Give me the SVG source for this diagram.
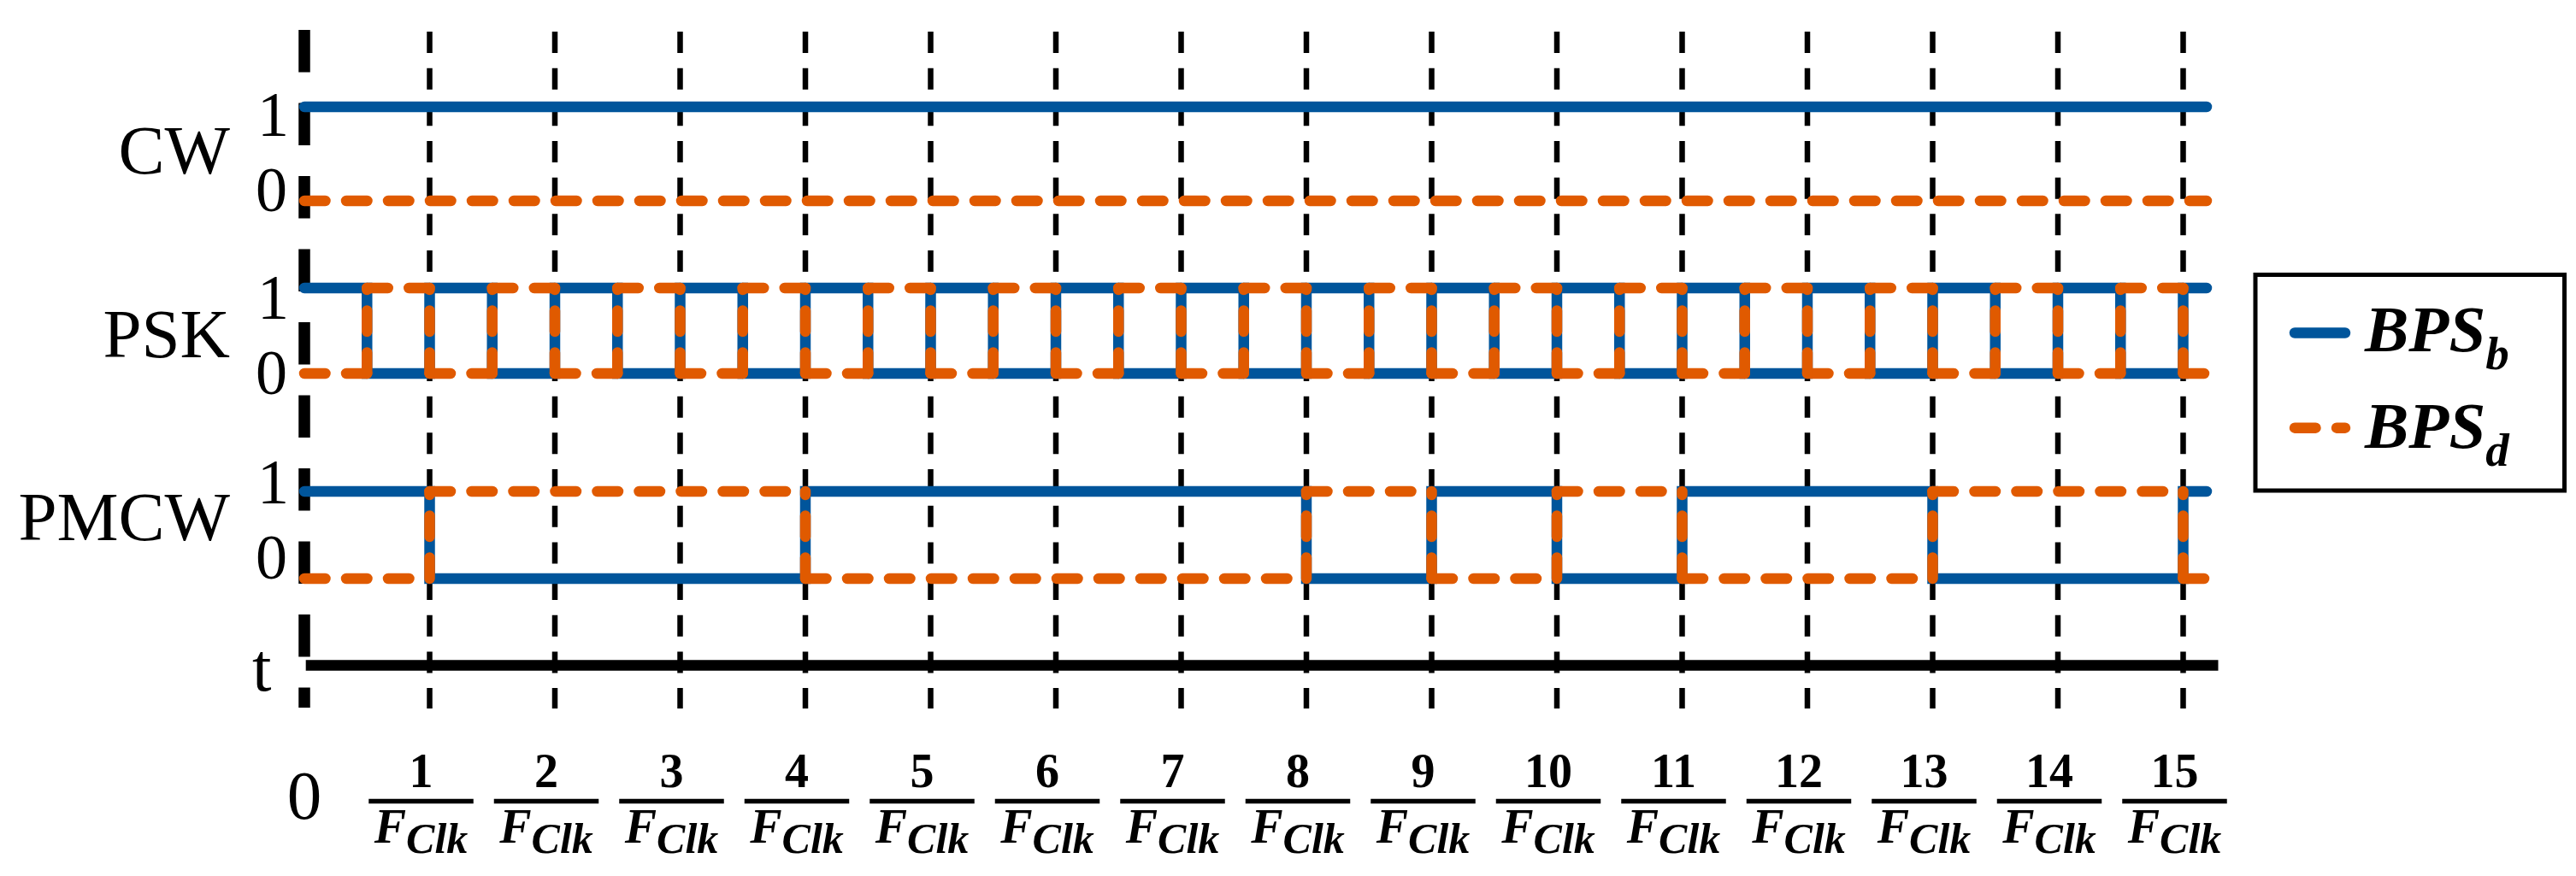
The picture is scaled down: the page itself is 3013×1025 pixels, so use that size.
<svg xmlns="http://www.w3.org/2000/svg" width="3013" height="1025" viewBox="0 0 3013 1025">
<style>
.grid{stroke:#000;stroke-width:6.5;stroke-dasharray:25 17.67;fill:none}
.yaxis{stroke:#000;stroke-width:13.5;stroke-dasharray:49.5 36;fill:none}
.taxis{stroke:#000;stroke-width:12.5;fill:none}
.b{stroke:#00559B;stroke-width:12.5;fill:none;stroke-linecap:round;stroke-linejoin:miter}
.d{stroke:#E05A00;stroke-width:12.5;fill:none;stroke-linecap:round;stroke-dasharray:24.5 24.5}
.lbl{font-family:"Liberation Serif","Times New Roman",serif;font-size:81px;fill:#000}
.lv{font-family:"Liberation Serif","Times New Roman",serif;font-size:74px;fill:#000;text-anchor:end}
.num{font-family:"Liberation Serif","Times New Roman",serif;font-weight:bold;font-size:56px;text-anchor:middle;fill:#000}
.den{font-family:"Liberation Serif","Times New Roman",serif;font-weight:bold;font-style:italic;text-anchor:middle;fill:#000}
.bar{stroke:#000;stroke-width:5.5}
.leg{font-family:"Liberation Serif","Times New Roman",serif;font-weight:bold;font-style:italic;fill:#000}
</style>
<rect width="3013" height="1025" fill="#fff"/>
<g id="grid">
<line class="grid" x1="502.5" y1="37" x2="502.5" y2="829"/>
<line class="grid" x1="649" y1="37" x2="649" y2="829"/>
<line class="grid" x1="795.5" y1="37" x2="795.5" y2="829"/>
<line class="grid" x1="942" y1="37" x2="942" y2="829"/>
<line class="grid" x1="1088.5" y1="37" x2="1088.5" y2="829"/>
<line class="grid" x1="1235" y1="37" x2="1235" y2="829"/>
<line class="grid" x1="1381.5" y1="37" x2="1381.5" y2="829"/>
<line class="grid" x1="1528" y1="37" x2="1528" y2="829"/>
<line class="grid" x1="1674.5" y1="37" x2="1674.5" y2="829"/>
<line class="grid" x1="1821" y1="37" x2="1821" y2="829"/>
<line class="grid" x1="1967.5" y1="37" x2="1967.5" y2="829"/>
<line class="grid" x1="2114" y1="37" x2="2114" y2="829"/>
<line class="grid" x1="2260.5" y1="37" x2="2260.5" y2="829"/>
<line class="grid" x1="2407" y1="37" x2="2407" y2="829"/>
<line class="grid" x1="2553.5" y1="37" x2="2553.5" y2="829"/>
</g>
<g id="axes">
<line class="yaxis" x1="356" y1="35" x2="356" y2="828"/>
<line class="taxis" x1="357.7" y1="778.5" x2="2594.5" y2="778.5"/>
</g>
<g id="labels">
<text class="lbl" x="269" y="203" text-anchor="end">CW</text>
<text class="lbl" x="269" y="418" text-anchor="end">PSK</text>
<text class="lbl" x="269" y="632" text-anchor="end">PMCW</text>
<text class="lv" x="338" y="159">1</text>
<text class="lv" x="336" y="247">0</text>
<text class="lv" x="338" y="373">1</text>
<text class="lv" x="336" y="461">0</text>
<text class="lv" x="338" y="589">1</text>
<text class="lv" x="336" y="677">0</text>
<text class="lbl" x="295" y="808" font-size="100">t</text>
<text class="lbl" x="356" y="958" text-anchor="middle">0</text>
</g>
<g id="cw">
<line class="b" x1="356" y1="125" x2="2581" y2="125"/>
<line class="d" x1="356" y1="235" x2="2581" y2="235"/>
</g>
<g id="psk">
<path class="b" d="M356,337H429.25V437H502.5V337H575.75V437H649V337H722.25V437H795.5V337H868.75V437H942V337H1015.25V437H1088.5V337H1161.75V437H1235V337H1308.25V437H1381.5V337H1454.75V437H1528V337H1601.25V437H1674.5V337H1747.75V437H1821V337H1894.25V437H1967.5V337H2040.75V437H2114V337H2187.25V437H2260.5V337H2333.75V437H2407V337H2480.25V437H2553.5V337H2581"/>
<path class="d" d="M356,437H429.25M429.25,337H502.5M502.5,437H575.75M575.75,337H649M649,437H722.25M722.25,337H795.5M795.5,437H868.75M868.75,337H942M942,437H1015.25M1015.25,337H1088.5M1088.5,437H1161.75M1161.75,337H1235M1235,437H1308.25M1308.25,337H1381.5M1381.5,437H1454.75M1454.75,337H1528M1528,437H1601.25M1601.25,337H1674.5M1674.5,437H1747.75M1747.75,337H1821M1821,437H1894.25M1894.25,337H1967.5M1967.5,437H2040.75M2040.75,337H2114M2114,437H2187.25M2187.25,337H2260.5M2260.5,437H2333.75M2333.75,337H2407M2407,437H2480.25M2480.25,337H2553.5M2553.5,437H2581"/>
<path class="d" d="M429.25,437V337M502.5,437V337M575.75,437V337M649,437V337M722.25,437V337M795.5,437V337M868.75,437V337M942,437V337M1015.25,437V337M1088.5,437V337M1161.75,437V337M1235,437V337M1308.25,437V337M1381.5,437V337M1454.75,437V337M1528,437V337M1601.25,437V337M1674.5,437V337M1747.75,437V337M1821,437V337M1894.25,437V337M1967.5,437V337M2040.75,437V337M2114,437V337M2187.25,437V337M2260.5,437V337M2333.75,437V337M2407,437V337M2480.25,437V337M2553.5,437V337"/>
</g>
<g id="pmcw">
<path class="b" d="M356,575H502.5V677H942V575H1528V677H1674.5V575H1821V677H1967.5V575H2260.5V677H2553.5V575H2581"/>
<path class="d" d="M356,677H502.5M502.5,575H942M942,677H1528M1528,575H1674.5M1674.5,677H1821M1821,575H1967.5M1967.5,677H2260.5M2260.5,575H2553.5M2553.5,677H2581"/>
<path class="d" d="M502.5,677V575M942,677V575M1528,677V575M1674.5,677V575M1821,677V575M1967.5,677V575M2260.5,677V575M2553.5,677V575"/>
</g>
<g id="ticks">
<g transform="translate(492.5,0)"><text class="num" x="0" y="921">1</text><line class="bar" x1="-61.25" y1="937.5" x2="61.25" y2="937.5"/><text class="den" x="0" y="986"><tspan font-size="56">F</tspan><tspan font-size="50" dy="12">Clk</tspan></text></g>
<g transform="translate(639,0)"><text class="num" x="0" y="921">2</text><line class="bar" x1="-61.25" y1="937.5" x2="61.25" y2="937.5"/><text class="den" x="0" y="986"><tspan font-size="56">F</tspan><tspan font-size="50" dy="12">Clk</tspan></text></g>
<g transform="translate(785.5,0)"><text class="num" x="0" y="921">3</text><line class="bar" x1="-61.25" y1="937.5" x2="61.25" y2="937.5"/><text class="den" x="0" y="986"><tspan font-size="56">F</tspan><tspan font-size="50" dy="12">Clk</tspan></text></g>
<g transform="translate(932,0)"><text class="num" x="0" y="921">4</text><line class="bar" x1="-61.25" y1="937.5" x2="61.25" y2="937.5"/><text class="den" x="0" y="986"><tspan font-size="56">F</tspan><tspan font-size="50" dy="12">Clk</tspan></text></g>
<g transform="translate(1078.5,0)"><text class="num" x="0" y="921">5</text><line class="bar" x1="-61.25" y1="937.5" x2="61.25" y2="937.5"/><text class="den" x="0" y="986"><tspan font-size="56">F</tspan><tspan font-size="50" dy="12">Clk</tspan></text></g>
<g transform="translate(1225,0)"><text class="num" x="0" y="921">6</text><line class="bar" x1="-61.25" y1="937.5" x2="61.25" y2="937.5"/><text class="den" x="0" y="986"><tspan font-size="56">F</tspan><tspan font-size="50" dy="12">Clk</tspan></text></g>
<g transform="translate(1371.5,0)"><text class="num" x="0" y="921">7</text><line class="bar" x1="-61.25" y1="937.5" x2="61.25" y2="937.5"/><text class="den" x="0" y="986"><tspan font-size="56">F</tspan><tspan font-size="50" dy="12">Clk</tspan></text></g>
<g transform="translate(1518,0)"><text class="num" x="0" y="921">8</text><line class="bar" x1="-61.25" y1="937.5" x2="61.25" y2="937.5"/><text class="den" x="0" y="986"><tspan font-size="56">F</tspan><tspan font-size="50" dy="12">Clk</tspan></text></g>
<g transform="translate(1664.5,0)"><text class="num" x="0" y="921">9</text><line class="bar" x1="-61.25" y1="937.5" x2="61.25" y2="937.5"/><text class="den" x="0" y="986"><tspan font-size="56">F</tspan><tspan font-size="50" dy="12">Clk</tspan></text></g>
<g transform="translate(1811,0)"><text class="num" x="0" y="921">10</text><line class="bar" x1="-61.25" y1="937.5" x2="61.25" y2="937.5"/><text class="den" x="0" y="986"><tspan font-size="56">F</tspan><tspan font-size="50" dy="12">Clk</tspan></text></g>
<g transform="translate(1957.5,0)"><text class="num" x="0" y="921">11</text><line class="bar" x1="-61.25" y1="937.5" x2="61.25" y2="937.5"/><text class="den" x="0" y="986"><tspan font-size="56">F</tspan><tspan font-size="50" dy="12">Clk</tspan></text></g>
<g transform="translate(2104,0)"><text class="num" x="0" y="921">12</text><line class="bar" x1="-61.25" y1="937.5" x2="61.25" y2="937.5"/><text class="den" x="0" y="986"><tspan font-size="56">F</tspan><tspan font-size="50" dy="12">Clk</tspan></text></g>
<g transform="translate(2250.5,0)"><text class="num" x="0" y="921">13</text><line class="bar" x1="-61.25" y1="937.5" x2="61.25" y2="937.5"/><text class="den" x="0" y="986"><tspan font-size="56">F</tspan><tspan font-size="50" dy="12">Clk</tspan></text></g>
<g transform="translate(2397,0)"><text class="num" x="0" y="921">14</text><line class="bar" x1="-61.25" y1="937.5" x2="61.25" y2="937.5"/><text class="den" x="0" y="986"><tspan font-size="56">F</tspan><tspan font-size="50" dy="12">Clk</tspan></text></g>
<g transform="translate(2543.5,0)"><text class="num" x="0" y="921">15</text><line class="bar" x1="-61.25" y1="937.5" x2="61.25" y2="937.5"/><text class="den" x="0" y="986"><tspan font-size="56">F</tspan><tspan font-size="50" dy="12">Clk</tspan></text></g>
</g>
<g id="legend">
<rect x="2638" y="321.5" width="361.5" height="252.5" fill="#fff" stroke="#000" stroke-width="5"/>
<line class="b" x1="2684" y1="389.5" x2="2743" y2="389.5"/>
<line class="d" x1="2684" y1="500.7" x2="2743" y2="500.7"/>
<text class="leg" x="2766" y="410.5"><tspan font-size="77">BPS</tspan><tspan font-size="55" dy="21">b</tspan></text>
<text class="leg" x="2766" y="524"><tspan font-size="77">BPS</tspan><tspan font-size="55" dy="21">d</tspan></text>
</g>
</svg>
